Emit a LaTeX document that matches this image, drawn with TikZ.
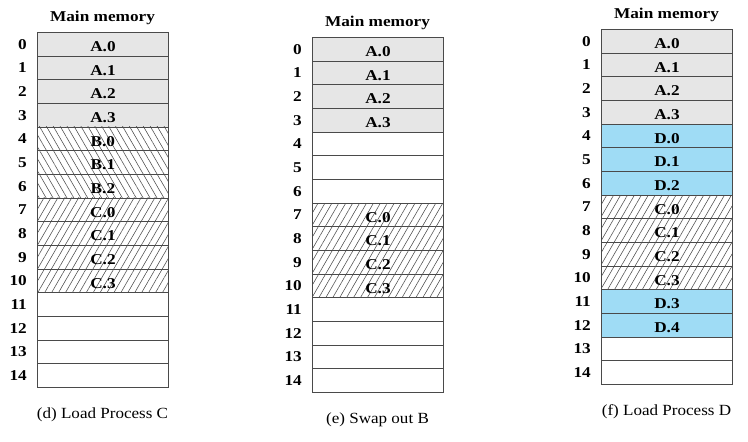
\documentclass[tikz,border=0pt]{standalone}
\usepackage{fontspec}
\setmainfont{Liberation Serif}
\usetikzlibrary{patterns.meta}
\definecolor{memgray}{HTML}{E6E6E6}
\definecolor{memblue}{HTML}{9FDCF5}
\definecolor{edgecol}{HTML}{4A4A4A}
\newcommand\sx[1]{\scalebox{1.15}[1]{#1}}
\tikzset{
  cell/.style={draw=edgecol, line width=0.9pt, minimum width=131pt, minimum height=23.67pt,
    inner sep=0pt, anchor=north west, text height=14.5pt, text depth=0pt,
    font=\fontsize{15}{15}\selectfont\bfseries},
  cA/.style={cell, fill=memgray},
  cD/.style={cell, fill=memblue},
  cE/.style={cell},
  cB/.style={cell, pattern={Lines[angle=-60,distance=6pt,line width=0.55pt]}, pattern color=edgecol},
  cC/.style={cell, pattern={Lines[angle=60,distance=6pt,line width=0.55pt]}, pattern color=edgecol},
  idx/.style={anchor=east, inner sep=0pt, font=\fontsize{15}{15}\selectfont\bfseries},
  ttl/.style={inner sep=0pt, font=\fontsize{15}{15}\selectfont\bfseries},
  captext/.style={inner sep=0pt, font=\fontsize{15.5}{16}\selectfont},
}
\newcommand\mempanel[5]{%
  \node[ttl] (#1title) at ({#2+65.5},{#3-14}) {\sx{Main memory}};
  \foreach \typ/\lab [count=\i from 0] in {#4} {
    \node[c\typ] (#1r\i) at ({#2},{#3+\i*23.67}) {\sx{\lab}};
    \node[idx] (#1n\i) at ([xshift=-10pt]#1r\i.west) {\sx{\i}};
  }
  \node[captext] (#1caption) at ({#2+65.5},{#3+355+28}) {\scalebox{1.1}[1]{#5}};
}
\begin{document}
\begin{tikzpicture}[x=1pt,y=-1pt]
  \useasboundingbox (0,0) rectangle (748,442);
  \mempanel{d}{37}{32}{A/A.0,A/A.1,A/A.2,A/A.3,B/B.0,B/B.1,B/B.2,C/C.0,C/C.1,C/C.2,C/C.3,E/{},E/{},E/{},E/{}}{(d) Load Process C}
  \mempanel{e}{312}{37}{A/A.0,A/A.1,A/A.2,A/A.3,E/{},E/{},E/{},C/C.0,C/C.1,C/C.2,C/C.3,E/{},E/{},E/{},E/{}}{(e) Swap out B}
  \mempanel{f}{601}{29}{A/A.0,A/A.1,A/A.2,A/A.3,D/D.0,D/D.1,D/D.2,C/C.0,C/C.1,C/C.2,C/C.3,D/D.3,D/D.4,E/{},E/{}}{(f) Load Process D}
\end{tikzpicture}
\end{document}
